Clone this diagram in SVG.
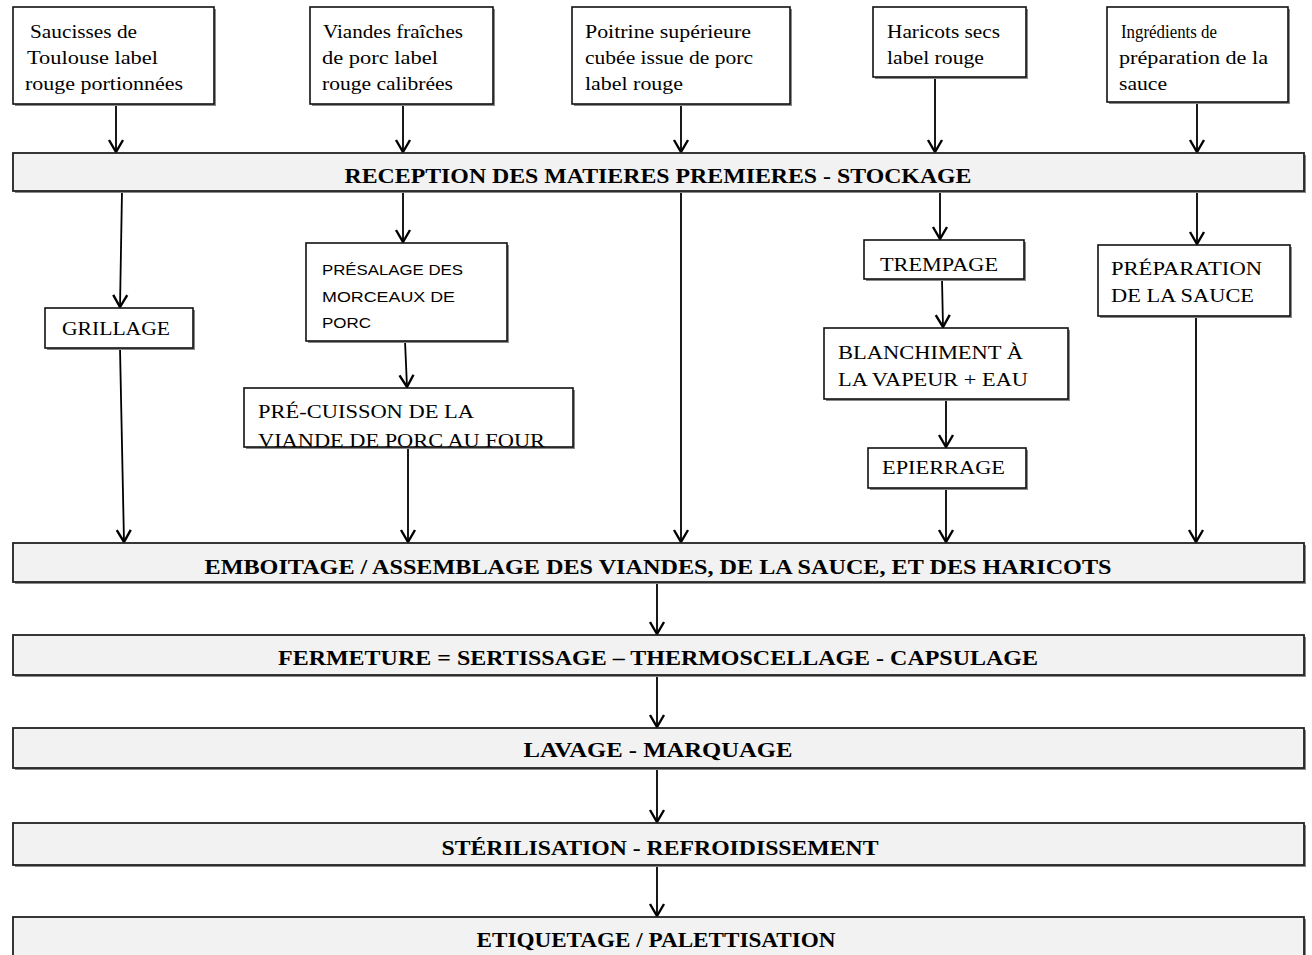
<svg xmlns="http://www.w3.org/2000/svg" width="1312" height="955" viewBox="0 0 1312 955">
<style>
.box{fill:#fff;stroke:#111;stroke-width:1.6}
.bar{fill:#f2f2f2;stroke:#222;stroke-width:1.8}
.sh{fill:#8a8a8a}
.t{font-family:"Liberation Serif",serif;font-size:18px;fill:#000}
.c{font-family:"Liberation Serif",serif;font-size:18px;fill:#000}
.s{font-family:"Liberation Sans",sans-serif;font-size:14px;fill:#000}
.b{font-family:"Liberation Serif",serif;font-size:21px;font-weight:bold;fill:#000;text-anchor:middle}
.ln{stroke:#000;stroke-width:1.8;fill:none;marker-end:url(#arr)}
</style>
<defs>
<marker id="arr" viewBox="-14 -9 16 18" refX="0" refY="0" markerWidth="16" markerHeight="18" markerUnits="userSpaceOnUse" orient="auto">
<path d="M-12,-7 L0,0 L-12,7" fill="none" stroke="#000" stroke-width="2.4"/>
</marker>
</defs>
<rect width="1312" height="955" fill="#fff"/>

<g id="connectors">
<line class="ln" x1="116" y1="104" x2="116" y2="152"/>
<line class="ln" x1="403" y1="104" x2="403" y2="152"/>
<line class="ln" x1="681" y1="104" x2="681" y2="152"/>
<line class="ln" x1="935" y1="77" x2="935" y2="152"/>
<line class="ln" x1="1197" y1="102" x2="1197" y2="152"/>
<line class="ln" x1="122" y1="191" x2="120" y2="307"/>
<line class="ln" x1="120" y1="348" x2="124" y2="542"/>
<line class="ln" x1="403" y1="191" x2="403" y2="242"/>
<line class="ln" x1="405" y1="341" x2="407" y2="387"/>
<line class="ln" x1="408" y1="447" x2="408" y2="542"/>
<line class="ln" x1="681" y1="191" x2="681" y2="542"/>
<line class="ln" x1="940" y1="191" x2="940" y2="239"/>
<line class="ln" x1="942" y1="279" x2="943" y2="327"/>
<line class="ln" x1="946" y1="399" x2="946" y2="447"/>
<line class="ln" x1="946" y1="488" x2="946" y2="542"/>
<line class="ln" x1="1197" y1="191" x2="1197" y2="244"/>
<line class="ln" x1="1196" y1="316" x2="1196" y2="542"/>
<line class="ln" x1="657" y1="582" x2="657" y2="634"/>
<line class="ln" x1="657" y1="675" x2="657" y2="727"/>
<line class="ln" x1="657" y1="768" x2="657" y2="822"/>
<line class="ln" x1="657" y1="865" x2="657" y2="916"/>
</g>

<g id="n-saucisses">
<rect class="sh" x="15" y="9" width="201" height="97"/>
<rect class="box" x="13" y="7" width="201" height="97"/>
<text class="t" x="30" y="38" textLength="107" lengthAdjust="spacingAndGlyphs">Saucisses de</text>
<text class="t" x="27" y="64" textLength="131" lengthAdjust="spacingAndGlyphs">Toulouse label</text>
<text class="t" x="25" y="90" textLength="158" lengthAdjust="spacingAndGlyphs">rouge portionnées</text>
</g>
<g id="n-viandes">
<rect class="sh" x="312" y="9" width="183" height="97"/>
<rect class="box" x="310" y="7" width="183" height="97"/>
<text class="t" x="323" y="38" textLength="140" lengthAdjust="spacingAndGlyphs">Viandes fraîches</text>
<text class="t" x="322" y="64" textLength="116" lengthAdjust="spacingAndGlyphs">de porc label</text>
<text class="t" x="322" y="90" textLength="131" lengthAdjust="spacingAndGlyphs">rouge calibrées</text>
</g>
<g id="n-poitrine">
<rect class="sh" x="574" y="9" width="218" height="97"/>
<rect class="box" x="572" y="7" width="218" height="97"/>
<text class="t" x="585" y="38" textLength="166" lengthAdjust="spacingAndGlyphs">Poitrine supérieure</text>
<text class="t" x="585" y="64" textLength="168" lengthAdjust="spacingAndGlyphs">cubée issue de porc</text>
<text class="t" x="585" y="90" textLength="98" lengthAdjust="spacingAndGlyphs">label rouge</text>
</g>
<g id="n-haricots">
<rect class="sh" x="875" y="9" width="153" height="70"/>
<rect class="box" x="873" y="7" width="153" height="70"/>
<text class="t" x="887" y="38" textLength="113" lengthAdjust="spacingAndGlyphs">Haricots secs</text>
<text class="t" x="887" y="64" textLength="97" lengthAdjust="spacingAndGlyphs">label rouge</text>
</g>
<g id="n-ingredients">
<rect class="sh" x="1109" y="9" width="181" height="95"/>
<rect class="box" x="1107" y="7" width="181" height="95"/>
<text class="t" x="1121" y="38" textLength="96" lengthAdjust="spacingAndGlyphs">Ingrédients de</text>
<text class="t" x="1119" y="64" textLength="149" lengthAdjust="spacingAndGlyphs">préparation de la</text>
<text class="t" x="1119" y="90" textLength="48" lengthAdjust="spacingAndGlyphs">sauce</text>
</g>

<g id="n-reception">
<rect class="sh" x="15" y="155" width="1291" height="38"/>
<rect class="bar" x="13" y="153" width="1291" height="38"/>
<text class="b" x="658" y="183" textLength="627" lengthAdjust="spacingAndGlyphs">RECEPTION DES MATIERES PREMIERES - STOCKAGE</text>
</g>

<g id="n-grillage">
<rect class="sh" x="47" y="310" width="148" height="40"/>
<rect class="box" x="45" y="308" width="148" height="40"/>
<text class="c" x="62" y="335" textLength="108" lengthAdjust="spacingAndGlyphs">GRILLAGE</text>
</g>
<g id="n-presalage">
<rect class="sh" x="308" y="245" width="201" height="98"/>
<rect class="box" x="306" y="243" width="201" height="98"/>
<text class="s" x="322" y="275" textLength="141" lengthAdjust="spacingAndGlyphs">PRÉSALAGE DES</text>
<text class="s" x="322" y="302" textLength="133" lengthAdjust="spacingAndGlyphs">MORCEAUX DE</text>
<text class="s" x="322" y="328" textLength="49" lengthAdjust="spacingAndGlyphs">PORC</text>
</g>
<g id="n-precuisson">
<rect class="sh" x="246" y="390" width="329" height="59"/>
<rect class="box" x="244" y="388" width="329" height="59"/>
<text class="c" x="258" y="418" textLength="216" lengthAdjust="spacingAndGlyphs">PRÉ-CUISSON DE LA</text>
<text class="c" x="258" y="447" textLength="287" lengthAdjust="spacingAndGlyphs">VIANDE DE PORC AU FOUR</text>
</g>
<g id="n-trempage">
<rect class="sh" x="866" y="242" width="160" height="39"/>
<rect class="box" x="864" y="240" width="160" height="39"/>
<text class="c" x="880" y="271" textLength="118" lengthAdjust="spacingAndGlyphs">TREMPAGE</text>
</g>
<g id="n-blanchiment">
<rect class="sh" x="826" y="330" width="244" height="71"/>
<rect class="box" x="824" y="328" width="244" height="71"/>
<text class="c" x="838" y="359" textLength="185" lengthAdjust="spacingAndGlyphs">BLANCHIMENT À</text>
<text class="c" x="838" y="386" textLength="190" lengthAdjust="spacingAndGlyphs">LA VAPEUR + EAU</text>
</g>
<g id="n-epierrage">
<rect class="sh" x="870" y="450" width="158" height="40"/>
<rect class="box" x="868" y="448" width="158" height="40"/>
<text class="c" x="882" y="474" textLength="123" lengthAdjust="spacingAndGlyphs">EPIERRAGE</text>
</g>
<g id="n-preparation">
<rect class="sh" x="1100" y="247" width="192" height="71"/>
<rect class="box" x="1098" y="245" width="192" height="71"/>
<text class="c" x="1111" y="275" textLength="151" lengthAdjust="spacingAndGlyphs">PRÉPARATION</text>
<text class="c" x="1111" y="302" textLength="143" lengthAdjust="spacingAndGlyphs">DE LA SAUCE</text>
</g>

<g id="n-emboitage">
<rect class="sh" x="15" y="545" width="1291" height="39"/>
<rect class="bar" x="13" y="543" width="1291" height="39"/>
<text class="b" x="658" y="574" textLength="907" lengthAdjust="spacingAndGlyphs">EMBOITAGE / ASSEMBLAGE DES VIANDES, DE LA SAUCE, ET DES HARICOTS</text>
</g>
<g id="n-fermeture">
<rect class="sh" x="15" y="637" width="1291" height="40"/>
<rect class="bar" x="13" y="635" width="1291" height="40"/>
<text class="b" x="658" y="665" textLength="760" lengthAdjust="spacingAndGlyphs">FERMETURE =  SERTISSAGE – THERMOSCELLAGE -  CAPSULAGE</text>
</g>
<g id="n-lavage">
<rect class="sh" x="15" y="730" width="1291" height="40"/>
<rect class="bar" x="13" y="728" width="1291" height="40"/>
<text class="b" x="658" y="757" textLength="269" lengthAdjust="spacingAndGlyphs">LAVAGE - MARQUAGE</text>
</g>
<g id="n-sterilisation">
<rect class="sh" x="15" y="825" width="1291" height="42"/>
<rect class="bar" x="13" y="823" width="1291" height="42"/>
<text class="b" x="660" y="855" textLength="437" lengthAdjust="spacingAndGlyphs">STÉRILISATION - REFROIDISSEMENT</text>
</g>
<g id="n-etiquetage">
<rect class="sh" x="15" y="919" width="1291" height="45"/>
<rect class="bar" x="13" y="917" width="1291" height="45"/>
<text class="b" x="656" y="947" textLength="359" lengthAdjust="spacingAndGlyphs">ETIQUETAGE / PALETTISATION</text>
</g>
</svg>
